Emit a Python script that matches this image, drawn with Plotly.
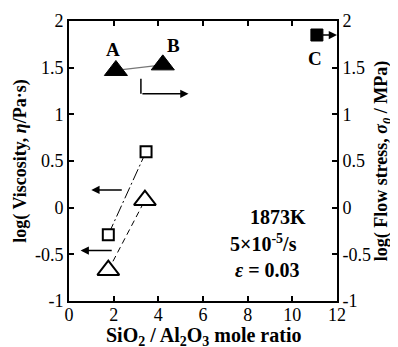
import plotly.graph_objects as go

# Data
ab_x = [2.1, 4.2]          # filled triangles A, B (flow stress)
ab_y = [1.47, 1.53]
c_x = [11.1]               # filled square C
c_y = [1.85]
sq_x = [1.76, 3.45]        # open squares (viscosity)
sq_y = [-0.29, 0.6]
tri_x = [1.76, 3.4]        # open triangles (viscosity)
tri_y = [-0.67, 0.08]
point_labels = ["A", "B", "C"]
label_x = [1.97, 4.66, 11.0]
label_y = [1.70, 1.74, 1.60]
tick_vals_x = [0, 2, 4, 6, 8, 10, 12]
tick_vals_y = [-1, -0.5, 0, 0.5, 1, 1.5, 2]
tick_text_y = ["-1", "-0.5", "0", "0.5", "1", "1.5", "2"]

FONT = "Liberation Serif, Times New Roman, serif"

fig = go.Figure()

# connecting lines
fig.add_trace(go.Scatter(x=ab_x, y=ab_y, mode="lines", yaxis="y2",
                         line=dict(color="#777777", width=1.2), showlegend=False))
fig.add_trace(go.Scatter(x=sq_x, y=sq_y, mode="lines",
                         line=dict(color="black", width=1, dash="12px,3px,2px,3px"), showlegend=False))
fig.add_trace(go.Scatter(x=tri_x, y=tri_y, mode="lines",
                         line=dict(color="black", width=1, dash="6px,4px"), showlegend=False))

# markers
fig.add_trace(go.Scatter(x=ab_x, y=ab_y, mode="markers", yaxis="y2",
                         marker=dict(symbol="triangle-up", size=20, color="black",
                                     line=dict(color="black", width=1)), showlegend=False))
fig.add_trace(go.Scatter(x=c_x, y=c_y, mode="markers", yaxis="y2",
                         marker=dict(symbol="square", size=12, color="black",
                                     line=dict(color="black", width=1)), showlegend=False))
fig.add_trace(go.Scatter(x=sq_x, y=sq_y, mode="markers",
                         marker=dict(symbol="square", size=11, color="white",
                                     line=dict(color="black", width=2)), showlegend=False))
fig.add_trace(go.Scatter(x=tri_x, y=tri_y, mode="markers",
                         marker=dict(symbol="triangle-up", size=19, color="white",
                                     line=dict(color="black", width=2)), showlegend=False))

annotations = []
for t, x, y in zip(point_labels, label_x, label_y):
    annotations.append(dict(x=x, y=y, xref="x", yref="y", text=f"<b>{t}</b>", showarrow=False,
                            font=dict(family=FONT, size=19, color="black")))

# arrows: (tail_x, tail_y, head_x, head_y)
arrows = [
    (2.43, 0.19, 1.0, 0.19),
    (1.98, -0.46, 0.52, -0.46),
    (3.22, 1.22, 5.35, 1.22),
    (11.3, 1.85, 12.0, 1.85),
]
for tx, ty, hx, hy in arrows:
    annotations.append(dict(x=hx, y=hy, ax=tx, ay=ty, xref="x", yref="y", axref="x", ayref="y",
                            text="", showarrow=True, arrowhead=2, arrowsize=1.1, arrowwidth=1.5,
                            arrowcolor="black"))

texts = [("<b>1873K</b>", 9.36, -0.10), ("<b>5×10<sup>-5</sup>/s</b>", 8.69, -0.38),
         ("<b><i>ε</i> = 0.03</b>", 8.9, -0.67)]
for t, x, y in texts:
    annotations.append(dict(x=x, y=y, xref="x", yref="y", text=t, showarrow=False,
                            font=dict(family=FONT, size=20, color="black")))

# x-axis title (placed as annotation so it sits clear of the tick labels)
annotations.append(dict(x=0.5, y=-0.125, xref="paper", yref="paper", yanchor="middle",
                        text="<b>SiO<sub>2</sub> / Al<sub>2</sub>O<sub>3</sub> mole ratio</b>",
                        showarrow=False, font=dict(family=FONT, size=20, color="black")))

shapes = [dict(type="line", xref="x", yref="y", x0=3.22, y0=1.38, x1=3.22, y1=1.22,
               line=dict(color="black", width=1.5))]

axis_common = dict(showgrid=False, zeroline=False, showline=True, linecolor="black", linewidth=2,
                   ticks="inside", ticklen=5, tickwidth=2, tickcolor="black", automargin=False,
                   tickfont=dict(family=FONT, size=18, color="black"))

# The page body has an 8px margin, so the figure is sized to fit the window.
fig.update_layout(
    width=390, height=339,
    margin=dict(l=61, r=61, t=13, b=46, autoexpand=False),
    paper_bgcolor="white", plot_bgcolor="white",
    xaxis=dict(range=[0, 12], tickvals=tick_vals_x, mirror="ticks", ticklabelstandoff=-4,
               **axis_common),
    yaxis=dict(range=[-1, 2], tickvals=tick_vals_y, ticktext=tick_text_y,
               title=dict(text="<b>log( Viscosity, <i>η</i>/Pa·s)</b>",
                          font=dict(family=FONT, size=18, color="black"), standoff=4),
               **axis_common),
    yaxis2=dict(range=[-1, 2], tickvals=tick_vals_y, ticktext=tick_text_y,
                overlaying="y", side="right",
                title=dict(text="<b>log( Flow stress, <i>σ<sub>0</sub></i> / MPa)</b>",
                           font=dict(family=FONT, size=18, color="black"), standoff=4),
                **axis_common),
    annotations=annotations,
    shapes=shapes,
)

fig.write_html("out.html")
